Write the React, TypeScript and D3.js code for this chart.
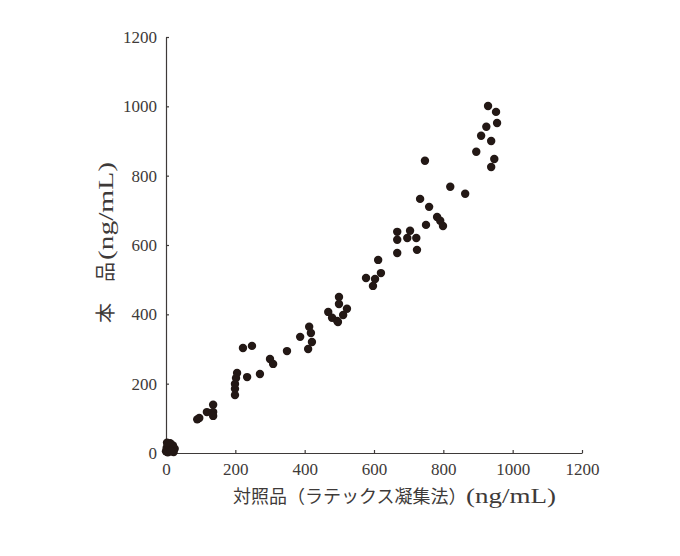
import React, { useRef, useEffect } from "react";
import * as d3 from "d3";

// reference method (latex agglutination), ng/mL
const refValues = [
  0, 2, 5, 8, 10, 12, 15, 18, 20, 25, 5, 22, 3, 14,
  90, 96, 118, 136, 136, 136,
  199, 199, 199, 202, 205, 234, 271, 222, 248, 300, 309, 349,
  387, 413, 418, 421, 410,
  468, 479, 494, 496, 511, 522, 499, 499,
  577, 597, 603, 620, 612,
  667, 667, 667, 696, 704, 722, 724,
  733, 759, 750, 782, 791, 799, 820, 863, 747,
  895, 909, 924, 929, 952, 955, 938, 947, 938,
];
// this product, ng/mL
const testValues = [
  5, 15, 25, 20, 10, 28, 18, 8, 22, 12, 2, 3, 30, 5,
  97, 101, 118, 139, 118, 107,
  167, 185, 199, 216, 231, 219, 228, 303, 309, 271, 257, 294,
  335, 364, 346, 320, 300,
  407, 390, 381, 378, 398, 416, 450, 430,
  505, 482, 502, 519, 557,
  577, 615, 638, 620, 641, 620, 586,
  733, 710, 658, 681, 670, 655, 768, 748, 843,
  869, 915, 941, 1001, 984, 952, 900, 848, 825,
];
const tickValues = [0, 200, 400, 600, 800, 1000, 1200];

const xLabelJa = "対照品（ラテックス凝集法）";
const yLabelParts = ["本", "品"];
const unitLabel = "(ng/mL)";

export default function App() {
  const ref = useRef<SVGSVGElement>(null);

  useEffect(() => {
    const svg = d3.select(ref.current);
    svg.selectAll("*").remove();

    const x = d3.scaleLinear().domain([0, 1200]).range([166, 582]);
    const y = d3.scaleLinear().domain([0, 1200]).range([453, 37]);
    const axisColor = "#3e3a39";
    const serif = "'Liberation Serif', 'DejaVu Serif', serif";
    const cjk = "'Noto Sans CJK JP', sans-serif";

    const xAxis = svg.append("g")
      .attr("transform", `translate(0,${y(0)})`)
      .call(d3.axisBottom(x).tickValues(tickValues).tickSizeInner(-3).tickSizeOuter(0).tickPadding(10).tickFormat(d3.format("d")));
    const yAxis = svg.append("g")
      .attr("transform", `translate(${x(0)},0)`)
      .call(d3.axisLeft(y).tickValues(tickValues).tickSizeInner(-3).tickSizeOuter(0).tickPadding(9).tickFormat(d3.format("d")));

    [xAxis, yAxis].forEach((g) => {
      g.select(".domain").attr("stroke", axisColor).attr("stroke-width", 1.2);
      g.selectAll(".tick line").attr("stroke", axisColor).attr("stroke-width", 1.2);
      g.selectAll(".tick text")
        .attr("fill", "#3e3a39")
        .style("font-family", serif)
        .style("font-size", "17px");
    });
    xAxis.selectAll(".tick").filter((d) => d === 0).select("line").remove();
    yAxis.selectAll(".tick").filter((d) => d === 0).select("line").remove();

    const data = refValues.map((v, i) => ({ r: v, t: testValues[i] }));
    svg.append("g")
      .selectAll("circle")
      .data(data)
      .enter()
      .append("circle")
        .attr("cx", (d) => x(d.r))
        .attr("cy", (d) => y(d.t))
        .attr("r", 4.2)
        .attr("fill", "#231815");

    // x label
    const xl = svg.append("g").attr("fill", "#3e3a39");
    xl.append("text")
      .attr("x", 233).attr("y", 503)
      .style("font-family", cjk).style("font-size", "18px")
      .text(xLabelJa);
    xl.append("text")
      .attr("x", 466).attr("y", 503)
      .attr("textLength", 90).attr("lengthAdjust", "spacingAndGlyphs")
      .style("font-family", serif).style("font-size", "20px")
      .text(unitLabel);

    // y label (rotated)
    const yl = svg.append("g")
      .attr("fill", "#3e3a39")
      .attr("transform", "translate(113,0) rotate(-90)");
    yl.append("text")
      .attr("x", -323).attr("y", 0)
      .style("font-family", cjk).style("font-size", "20px")
      .text(yLabelParts[0]);
    yl.append("text")
      .attr("x", -282).attr("y", 0)
      .style("font-family", cjk).style("font-size", "20px")
      .text(yLabelParts[1]);
    yl.append("text")
      .attr("x", -260).attr("y", 0)
      .attr("textLength", 98).attr("lengthAdjust", "spacingAndGlyphs")
      .style("font-family", serif).style("font-size", "20px")
      .text(unitLabel);
  }, []);

  return (
    <svg
      ref={ref}
      width={680}
      height={556}
      style={{ position: "absolute", left: 0, top: 0, background: "#fff" }}
    />
  );
}
